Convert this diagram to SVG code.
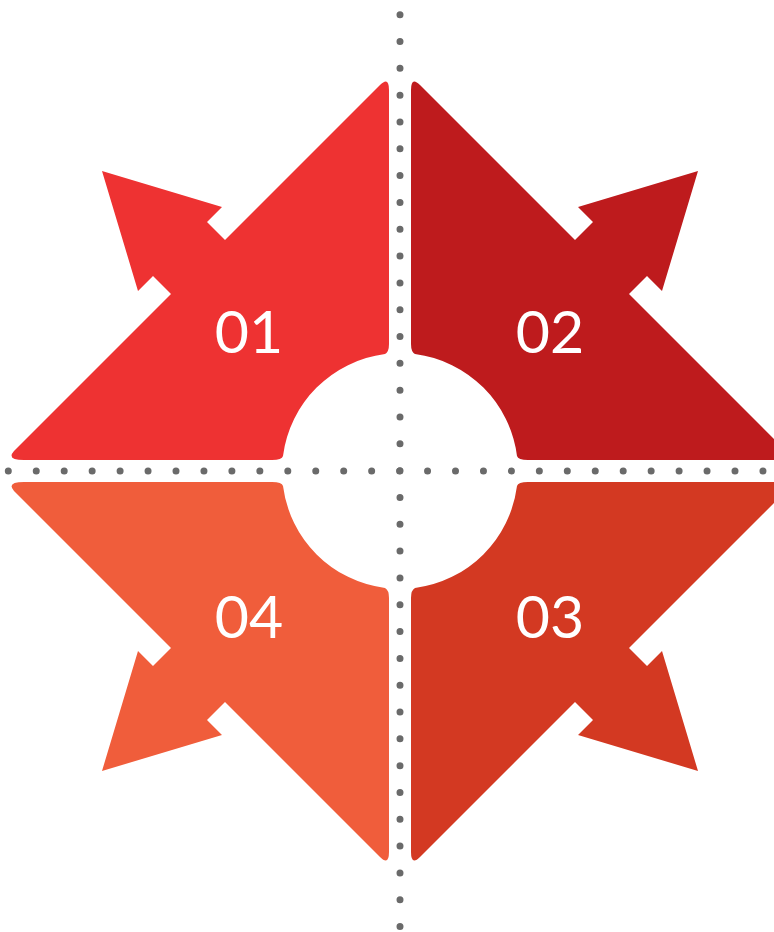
<svg xmlns="http://www.w3.org/2000/svg" width="774" height="932" viewBox="0 0 774 932">
<style>
.lbl{font-family:Lato,"Open Sans","Liberation Sans",sans-serif;font-size:59px;fill:#ffffff;text-anchor:middle}
.dots{stroke:#6a6a6a;stroke-width:7;stroke-linecap:round;fill:none}
</style>
<defs>
<path id="q" d="M380,85 Q389,76 389,90 L389,344 Q389,352 385,354 A118,118 0 0 0 283,456 Q282,460 272,460 L24,460 Q6,460 14,451 L171,294 L153,276 L138,291 L102,171 L222,207 L207,222 L225,240 Z"/>
</defs>
<rect width="774" height="932" fill="#ffffff"/>
<g id="node-01">
<use href="#q" fill="#EE3232"/>
<text class="lbl" x="249" y="353">01</text>
</g>
<g id="node-02">
<use href="#q" fill="#BE1B1D" transform="matrix(-1 0 0 1 800 0)"/>
<text class="lbl" x="550" y="353">02</text>
</g>
<g id="node-03">
<use href="#q" fill="#D33922" transform="matrix(-1 0 0 -1 800 942)"/>
<text class="lbl" x="550" y="638">03</text>
</g>
<g id="node-04">
<use href="#q" fill="#F05D3B" transform="matrix(1 0 0 -1 0 942)"/>
<text class="lbl" x="249" y="638">04</text>
</g>
<g id="connectors">
<line class="dots" x1="400" y1="14.7" x2="400" y2="928" stroke-dasharray="0 26.82"/>
<line class="dots" x1="8.3" y1="471" x2="764" y2="471" stroke-dasharray="0 27.95"/>
</g>
</svg>
